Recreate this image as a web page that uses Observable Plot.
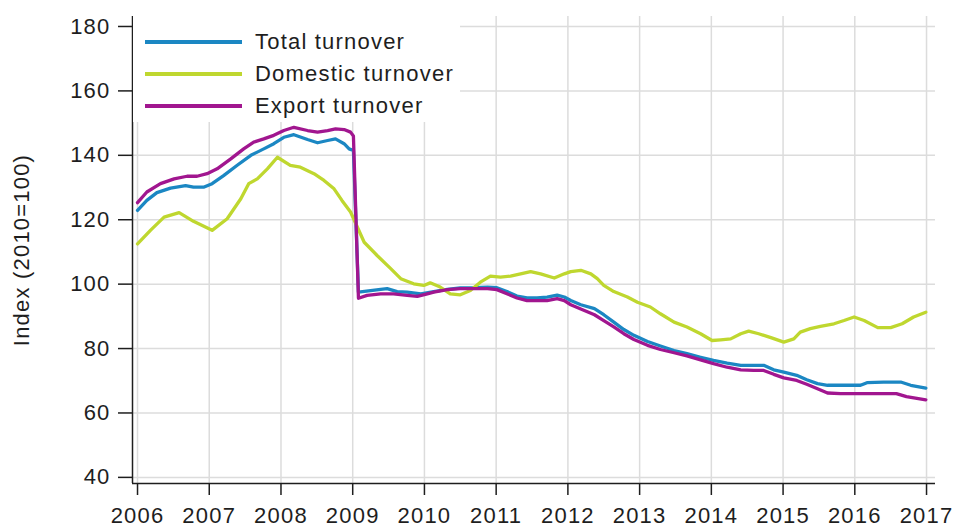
<!DOCTYPE html>
<html><head><meta charset="utf-8">
<script src="https://cdn.jsdelivr.net/npm/d3@7"></script>
<script src="https://cdn.jsdelivr.net/npm/@observablehq/plot@0.6"></script>
<style>
body{margin:0;background:#fff;}
#wrap{position:relative;width:955px;height:530px;}
#legend{position:absolute;left:133px;top:16px;width:327px;height:106px;background:#fff;font:22px "Liberation Sans",Arial,sans-serif;letter-spacing:1.2px;color:#1e1e1e;}
.item{position:absolute;left:12px;height:32px;display:flex;align-items:center;white-space:nowrap;}
.swatch{width:97px;height:3.5px;margin-right:13px;}
</style>
</head><body>
<div id="wrap"><div id="legend"></div></div>
<script>
// Series names and colours
const seriesNames = ["Total turnover", "Domestic turnover", "Export turnover"];
const seriesColors = ["#1b87c3", "#bfd72f", "#a1168f"];

// Total turnover (decimal year, index)
const totalT = [2006.0,2006.13,2006.27,2006.46,2006.67,2006.78,2006.92,2007.04,2007.2,2007.39,2007.58,2007.76,2007.9,2008.04,2008.18,2008.37,2008.51,2008.65,2008.76,2008.88,2008.95,2009.01,2009.08,2009.25,2009.39,2009.48,2009.62,2009.76,2009.95,2010.13,2010.32,2010.5,2010.69,2010.88,2011.01,2011.15,2011.29,2011.43,2011.57,2011.71,2011.85,2011.95,2012.04,2012.18,2012.37,2012.5,2012.64,2012.78,2012.92,2013.11,2013.29,2013.48,2013.66,2013.85,2014.03,2014.22,2014.41,2014.59,2014.73,2014.87,2015.01,2015.19,2015.33,2015.48,2015.62,2015.8,2015.99,2016.08,2016.17,2016.4,2016.64,2016.78,2016.99];
const totalV = [122.9,126.0,128.4,129.8,130.6,130.1,130.1,131.2,133.7,136.9,140.0,142.0,143.6,145.6,146.4,144.9,143.9,144.6,145.1,143.6,142.0,141.5,97.5,98.0,98.4,98.6,97.7,97.5,97.0,97.7,98.4,98.8,98.9,99.1,98.9,97.7,96.3,95.7,95.7,96.0,96.6,96.0,94.9,93.6,92.4,90.5,88.2,85.9,84.1,82.2,80.8,79.4,78.4,77.3,76.3,75.5,74.8,74.8,74.8,73.4,72.7,71.7,70.3,69.1,68.6,68.6,68.6,68.6,69.4,69.6,69.6,68.6,67.7];

// Domestic turnover
const domesticT = [2006.0,2006.18,2006.37,2006.58,2006.78,2007.04,2007.25,2007.44,2007.55,2007.67,2007.81,2007.95,2008.13,2008.27,2008.46,2008.6,2008.74,2008.85,2008.97,2009.16,2009.34,2009.53,2009.67,2009.85,2009.99,2010.08,2010.22,2010.36,2010.5,2010.64,2010.78,2010.92,2011.06,2011.2,2011.34,2011.48,2011.62,2011.81,2011.95,2012.04,2012.18,2012.32,2012.41,2012.5,2012.64,2012.83,2012.97,2013.15,2013.29,2013.48,2013.66,2013.85,2014.01,2014.13,2014.27,2014.41,2014.52,2014.66,2014.83,2015.01,2015.15,2015.24,2015.38,2015.52,2015.71,2015.85,2015.99,2016.13,2016.32,2016.5,2016.66,2016.82,2016.99];
const domesticV = [112.5,116.7,120.8,122.2,119.5,116.7,120.3,126.5,131.2,132.7,135.8,139.4,136.9,136.3,134.3,132.2,129.6,126.0,122.4,113.0,108.9,104.8,101.7,100.1,99.6,100.4,99.1,97.0,96.7,98.0,100.6,102.5,102.2,102.5,103.2,103.9,103.2,101.9,103.2,103.9,104.3,103.2,101.7,99.6,97.7,96.0,94.4,92.9,90.8,88.2,86.7,84.6,82.5,82.7,83.0,84.6,85.4,84.6,83.4,82.0,83.0,85.1,86.2,86.9,87.7,88.7,89.8,88.7,86.5,86.5,87.7,89.8,91.3];

// Export turnover
const exportT = [2006.0,2006.13,2006.32,2006.51,2006.69,2006.83,2006.97,2007.11,2007.3,2007.48,2007.62,2007.76,2007.9,2008.04,2008.18,2008.37,2008.51,2008.65,2008.76,2008.88,2008.97,2009.01,2009.08,2009.2,2009.39,2009.57,2009.76,2009.9,2010.04,2010.13,2010.32,2010.5,2010.69,2010.88,2011.01,2011.15,2011.29,2011.43,2011.57,2011.71,2011.85,2011.95,2012.04,2012.18,2012.37,2012.5,2012.64,2012.78,2012.92,2013.11,2013.29,2013.48,2013.66,2013.85,2014.03,2014.22,2014.41,2014.59,2014.73,2014.87,2015.01,2015.19,2015.33,2015.48,2015.62,2015.8,2016.08,2016.58,2016.72,2016.99];
const exportV = [125.3,128.6,131.2,132.7,133.5,133.5,134.3,135.8,138.9,142.0,144.1,145.1,146.2,147.7,148.7,147.7,147.2,147.7,148.2,148.0,147.2,146.0,95.6,96.5,97.0,97.0,96.5,96.2,97.0,97.5,98.3,98.6,98.6,98.6,98.3,97.0,95.7,94.9,94.9,94.9,95.5,94.9,93.6,92.3,90.5,88.7,86.7,84.6,82.8,81.0,79.7,78.7,77.7,76.5,75.3,74.2,73.4,73.2,73.2,72.0,70.9,70.1,68.9,67.5,66.2,66.0,66.0,66.0,65.1,64.1];

// Axis ticks and domains
const xTicks = [2006,2007,2008,2009,2010,2011,2012,2013,2014,2015,2016,2017];
const yTicks = [40,60,80,100,120,140,160,180];
const xDomain = [2005.93, 2017.125];
const yDomain = [38.1, 183.1];

const seriesT = [totalT, domesticT, exportT];
const seriesV = [totalV, domesticV, exportV];
const data = seriesNames.map((name, i) => seriesT[i].map((t, j) => ({series: name, t, v: seriesV[i][j]})));

const chart = Plot.plot({
  width: 955, height: 530,
  marginLeft: 132, marginRight: 20, marginTop: 16, marginBottom: 47,
  style: {fontFamily: '"Liberation Sans", Arial, sans-serif', fontSize: "22px", letterSpacing: "1.2px", color: "#1e1e1e", background: "#fff", overflow: "visible"},
  x: {type: "linear", domain: xDomain},
  y: {type: "linear", domain: yDomain},
  marks: [
    Plot.gridX(xTicks, {stroke: "#dcdcdc", strokeOpacity: 1, strokeWidth: 1.5}),
    Plot.gridY(yTicks, {stroke: "#dcdcdc", strokeOpacity: 1, strokeWidth: 1.5}),
    ...data.map((d, i) => Plot.line(d, {x: "t", y: "v", stroke: seriesColors[i], strokeWidth: 3.3, strokeLinejoin: "round"})),
    Plot.ruleX([xDomain[0]], {stroke: "#1e1e1e", strokeWidth: 1.5}),
    Plot.ruleY([yDomain[0]], {stroke: "#1e1e1e", strokeWidth: 1.5}),
    Plot.axisX(xTicks, {tickSize: 12, tickPadding: 12, tickFormat: d => String(d), stroke: "#1e1e1e", strokeWidth: 1.5, label: null}),
    Plot.axisY(yTicks, {tickSize: 14, tickPadding: 8, stroke: "#1e1e1e", strokeWidth: 1.5, label: "Index (2010=100)", labelAnchor: "center", labelArrow: "none", labelOffset: 119})
  ]
});
const wrap = document.getElementById("wrap");
wrap.insertBefore(chart, wrap.firstChild);

const legend = document.getElementById("legend");
seriesNames.forEach((name, i) => {
  const item = document.createElement("div");
  item.className = "item";
  item.style.top = (10 + i * 32) + "px";
  const sw = document.createElement("div");
  sw.className = "swatch";
  sw.style.background = seriesColors[i];
  const label = document.createElement("span");
  label.textContent = name;
  item.appendChild(sw);
  item.appendChild(label);
  legend.appendChild(item);
});
</script>
</body></html>
